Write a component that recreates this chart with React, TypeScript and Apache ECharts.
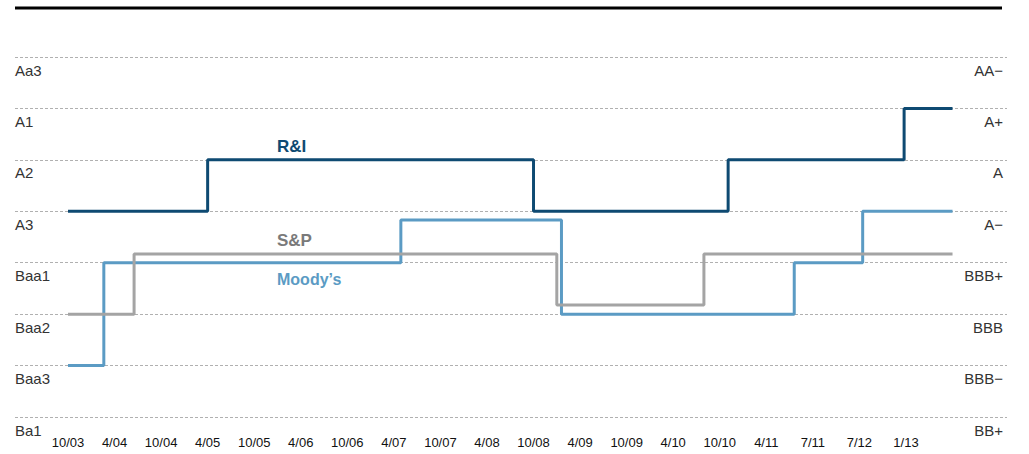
import React, { useEffect, useRef } from "react";
import * as echarts from "echarts";

const xLabels = ["10/03", "4/04", "10/04", "4/05", "10/05", "4/06", "10/06", "4/07", "10/07", "4/08", "10/08", "4/09", "10/09", "4/10", "10/10", "4/11", "7/11", "7/12", "1/13"];
const leftRatings = ["Ba1", "Baa3", "Baa2", "Baa1", "A3", "A2", "A1", "Aa3"];
const rightRatings = ["BB+", "BBB−", "BBB", "BBB+", "A−", "A", "A+", "AA−"];

// [position on the date scale, rating notch]
const riData: [number, number][] = [[0, 4], [3, 5], [10, 4], [14.18, 5], [17.96, 6], [19, 6]];
const moodysData: [number, number][] = [[0, 1], [0.77, 3], [7.15, 3.83], [10.6, 2], [15.6, 3], [17.07, 4], [19, 4]];
const spData: [number, number][] = [[0, 2], [1.42, 3.17], [10.5, 2.18], [13.66, 3.17], [19, 3.17]];

const FONT = "'Liberation Sans', Arial, Helvetica, sans-serif";
const C_RI = "#0e4a72";
const C_MOODY = "#5b9bc4";
const C_SP = "#a4a4a4";

export default function App() {
  const ref = useRef<HTMLDivElement>(null);
  useEffect(() => {
    if (!ref.current) return;
    const chart = echarts.init(ref.current, undefined, { renderer: "svg" });
    const yAxisBase = {
      type: "value" as const,
      min: 0,
      max: 7,
      interval: 1,
      axisLine: { show: false },
      axisTick: { show: false },
    };
    chart.setOption({
      animation: false,
      backgroundColor: "#ffffff",
      grid: { left: 15, right: 22, top: 57, bottom: 37, containLabel: false },
      xAxis: {
        type: "value",
        min: -1.138,
        max: 20.17,
        axisLine: { show: false },
        axisTick: { show: false },
        splitLine: { show: false },
        axisLabel: {
          customValues: xLabels.map((_, i) => i),
          formatter: (v: number) => xLabels[Math.round(v)] ?? "",
          margin: 19,
          fontSize: 13,
          color: "#111",
          fontFamily: FONT,
        },
      },
      yAxis: [
        {
          ...yAxisBase,
          position: "left",
          splitLine: { show: true, lineStyle: { color: "#b0b0b0", type: [3, 2], width: 1 } },
          axisLabel: {
            inside: true,
            margin: 0,
            verticalAlign: "top",
            lineHeight: 16,
            padding: [5, 0, 0, 0],
            fontSize: 15,
            color: "#333",
            fontFamily: FONT,
            formatter: (v: number) => leftRatings[Math.round(v)] ?? "",
          },
        },
        {
          ...yAxisBase,
          position: "right",
          splitLine: { show: false },
          axisLabel: {
            inside: true,
            margin: 4,
            verticalAlign: "top",
            lineHeight: 16,
            padding: [5, 0, 0, 0],
            fontSize: 15,
            color: "#333",
            fontFamily: FONT,
            formatter: (v: number) => rightRatings[Math.round(v)] ?? "",
          },
        },
      ],
      series: [
        {
          name: "Moody's",
          type: "line",
          step: "end",
          data: moodysData,
          symbol: "none",
          z: 2,
          lineStyle: { color: C_MOODY, width: 3 },
        },
        {
          name: "S&P",
          type: "line",
          step: "end",
          data: spData,
          symbol: "none",
          z: 3,
          lineStyle: { color: C_SP, width: 3 },
        },
        {
          name: "R&I",
          type: "line",
          step: "end",
          data: riData,
          symbol: "none",
          z: 4,
          lineStyle: { color: C_RI, width: 3 },
        },
      ],
      graphic: [
        {
          type: "line",
          shape: { x1: 15, y1: 8, x2: 1002, y2: 8 },
          style: { stroke: "#000", lineWidth: 3 },
        },
        {
          type: "text",
          left: 277,
          top: 138,
          style: { text: "R&I", fill: C_RI, font: `bold 17px ${FONT}` },
        },
        {
          type: "text",
          left: 277,
          top: 232,
          style: { text: "S&P", fill: "#7a7a7a", font: `bold 17px ${FONT}` },
        },
        {
          type: "text",
          left: 277,
          top: 271,
          style: { text: "Moody’s", fill: C_MOODY, font: `bold 16px ${FONT}` },
        },
      ],
    });
    return () => chart.dispose();
  }, []);
  return <div ref={ref} style={{ position: "absolute", left: 0, top: 0, width: 1029, height: 454 }} />;
}
